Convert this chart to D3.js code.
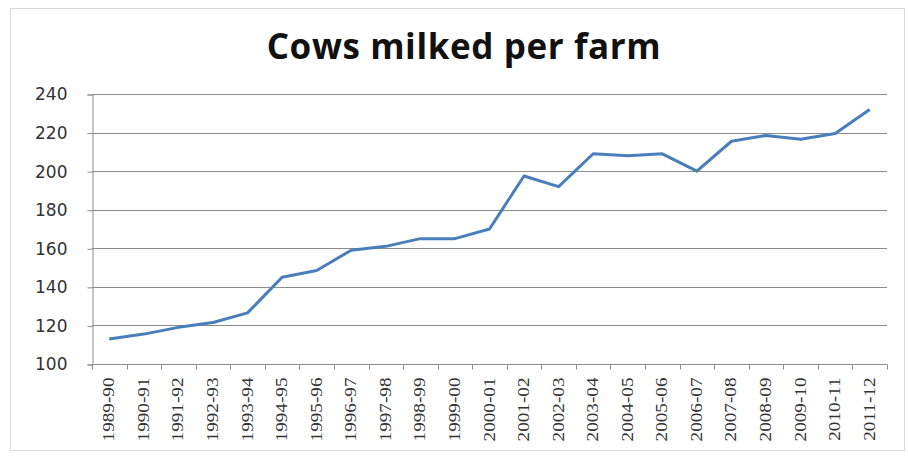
<!DOCTYPE html>
<html>
<head>
<meta charset="utf-8">
<script src="https://cdn.jsdelivr.net/npm/d3@7"></script>
<style>
  body { margin: 0; background: #fff; }
</style>
</head>
<body>
<script>
// Data
const seasons = ['1989-90', '1990-91', '1991-92', '1992-93', '1993-94', '1994-95', '1995-96',
  '1996-97', '1997-98', '1998-99', '1999-00', '2000-01', '2001-02', '2002-03', '2003-04',
  '2004-05', '2005-06', '2006-07', '2007-08', '2008-09', '2009-10', '2010-11', '2011-12'];
const cows = [113, 115.5, 119, 121.5, 126.5, 145, 148.5, 159, 161, 165, 165, 170,
  197.5, 192, 209, 208, 209, 200, 215.5, 218.5, 216.5, 219.5, 232];
const yTicks = [100, 120, 140, 160, 180, 200, 220, 240];

const svgWidth = 908;
const svgHeight = 458;
const margin = { top: 94, right: 21, bottom: 94, left: 92 };

const svg = d3.select('body')
    .append('svg')
    .attr('width', svgWidth)
    .attr('height', svgHeight);

// chart frame
svg.append('rect')
    .attr('x', 10.5).attr('y', 8.5)
    .attr('width', 894).attr('height', 442)
    .attr('fill', 'none')
    .attr('stroke', '#d9d9d9');

const xScale = d3.scaleBand()
    .domain(seasons)
    .range([margin.left, svgWidth - margin.right]);

const yScale = d3.scaleLinear()
    .domain([100, 240])
    .range([svgHeight - margin.bottom, margin.top]);

// gridlines
svg.append('g')
    .selectAll('line')
    .data(yTicks.slice(1))
    .enter()
    .append('line')
    .attr('x1', margin.left)
    .attr('x2', svgWidth - margin.right)
    .attr('y1', d => Math.round(yScale(d)) + 0.5)
    .attr('y2', d => Math.round(yScale(d)) + 0.5)
    .attr('stroke', '#8c8c8c')
    .attr('stroke-width', 1);

// Y-axis
const yAxis = svg.append('g')
    .attr('transform', `translate(${margin.left + 0.5},0.5)`)
    .call(d3.axisLeft(yScale).tickValues(yTicks).tickSize(5).tickPadding(20));
yAxis.select('.domain').attr('stroke', '#8c8c8c');
yAxis.selectAll('.tick line').attr('stroke', '#8c8c8c');
yAxis.selectAll('text')
    .attr('fill', '#333')
    .style('font-family', 'DejaVu Sans, sans-serif')
    .style('font-size', '17px');

// X-axis, ticks between categories
const xAxis = svg.append('g')
    .attr('transform', `translate(0,${Math.round(yScale(100)) + 0.5})`);
xAxis.append('line')
    .attr('x1', margin.left)
    .attr('x2', svgWidth - margin.right)
    .attr('stroke', '#8c8c8c');
xAxis.selectAll('.tk')
    .data(seasons.concat(['end']))
    .enter()
    .append('line')
    .attr('x1', (d, i) => Math.round(margin.left + i * xScale.bandwidth()) + 0.5)
    .attr('x2', (d, i) => Math.round(margin.left + i * xScale.bandwidth()) + 0.5)
    .attr('y1', 0)
    .attr('y2', 5)
    .attr('stroke', '#8c8c8c');
xAxis.selectAll('.lbl')
    .data(seasons)
    .enter()
    .append('text')
    .attr('transform', d => `translate(${xScale(d) + xScale.bandwidth() / 2 + 5},13) rotate(-90) scale(1.2,1)`)
    .attr('text-anchor', 'end')
    .attr('fill', '#333')
    .style('font-family', 'Liberation Serif, Times New Roman, serif')
    .style('font-size', '16px')
    .text(d => d);

// the line
const line = d3.line()
    .x((d, i) => xScale(seasons[i]) + xScale.bandwidth() / 2)
    .y(d => yScale(d));

svg.append('path')
    .datum(cows)
    .attr('d', line)
    .attr('fill', 'none')
    .attr('stroke', '#4a7ebb')
    .attr('stroke-width', 3)
    .attr('stroke-linejoin', 'round');

// title
svg.append('text')
    .attr('x', 464)
    .attr('y', 59)
    .attr('text-anchor', 'middle')
    .attr('fill', '#111')
    .style('font-family', 'Open Sans, sans-serif')
    .style('font-weight', 'bold')
    .style('font-size', '35px')
    .style('letter-spacing', '0.6px')
    .text('Cows milked per farm');
</script>
</body>
</html>
